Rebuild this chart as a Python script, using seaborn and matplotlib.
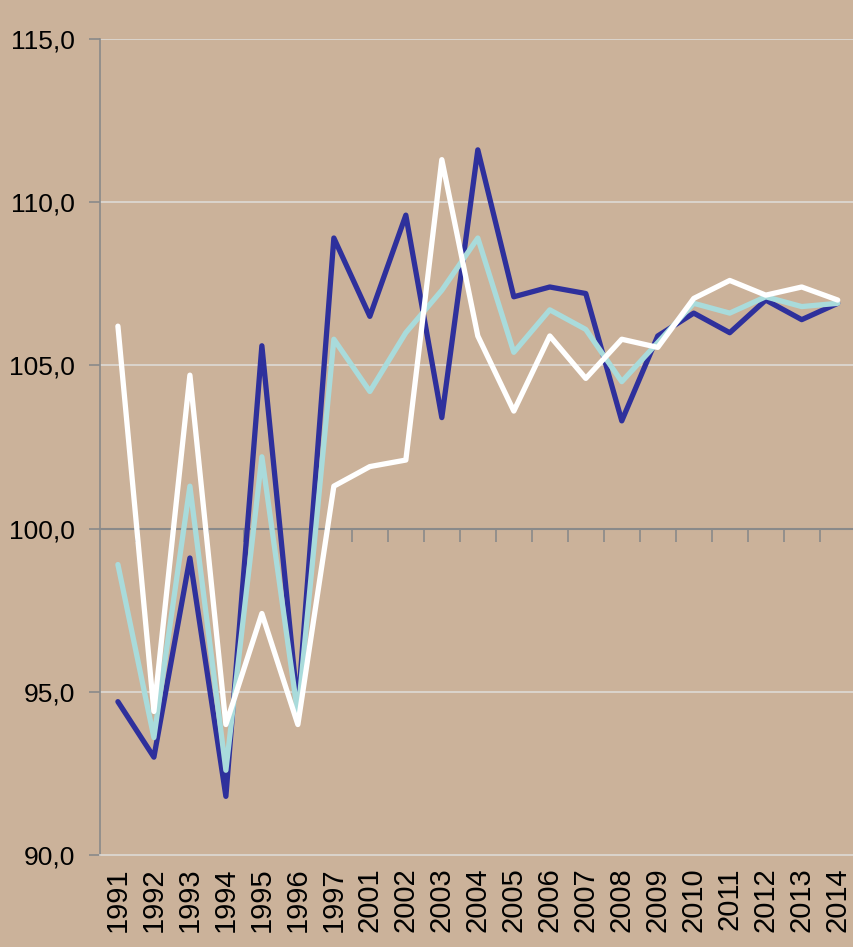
import pandas as pd
import seaborn as sns
import matplotlib.pyplot as plt

# data
years = ['1991', '1992', '1993', '1994', '1995', '1996', '1997',
         '2001', '2002', '2003', '2004', '2005', '2006', '2007',
         '2008', '2009', '2010', '2011', '2012', '2013', '2014']
dark_blue = [94.7, 93.0, 99.1, 91.8, 105.6, 94.5, 108.9,
             106.5, 109.6, 103.4, 111.6, 107.1, 107.4, 107.2,
             103.3, 105.9, 106.6, 106.0, 107.0, 106.4, 106.9]
light_cyan = [98.9, 93.6, 101.3, 92.6, 102.2, 94.3, 105.8,
              104.2, 106.0, 107.3, 108.9, 105.4, 106.7, 106.1,
              104.5, 105.7, 106.9, 106.6, 107.1, 106.8, 106.9]
white = [106.2, 94.4, 104.7, 94.0, 97.4, 94.0, 101.3,
         101.9, 102.1, 111.3, 105.9, 103.6, 105.9, 104.6,
         105.8, 105.55, 107.05, 107.6, 107.15, 107.4, 107.0]
y_ticks = [90, 95, 100, 105, 110, 115]

BG = '#cbb29a'
AXIS_GREY = '#8a8a8a'
GRID = '#dedad6'

df = pd.concat([
    pd.DataFrame({'pos': range(len(years)), 'value': dark_blue, 'series': 'a'}),
    pd.DataFrame({'pos': range(len(years)), 'value': light_cyan, 'series': 'b'}),
    pd.DataFrame({'pos': range(len(years)), 'value': white, 'series': 'c'}),
])

sns.set_style('white')
plt.rcParams['font.family'] = ['Liberation Sans', 'DejaVu Sans']

fig = plt.figure(figsize=(8.54, 9.47), dpi=100, facecolor=BG)
ax = fig.add_axes([0.117, 0.097, 0.885, 0.862])
ax.set_facecolor(BG)

sns.lineplot(data=df, x='pos', y='value', hue='series', sort=False,
             palette={'a': '#2e309c', 'b': '#a9dbdb', 'c': '#ffffff'},
             linewidth=3.8, legend=False, ax=ax, zorder=3)

ax.set_xlim(-0.5, len(years) - 0.5)
ax.set_ylim(90, 115)
ax.set_yticks(y_ticks)
ax.set_yticklabels([f'{v:.1f}'.replace('.', ',') for v in y_ticks], fontsize=19)
ax.set_xticks(range(len(years)))
ax.set_xticklabels(years, rotation=90, fontsize=21)
ax.tick_params(axis='x', length=0, pad=9, labelcolor='black')
ax.tick_params(axis='y', length=8, width=1.2, color=AXIS_GREY, pad=10,
               direction='out', left=True, labelcolor='black')
for y in y_ticks[1:]:
    if y != 100:
        ax.axhline(y, color=GRID, linewidth=1.2, zorder=1)
ax.set_xlabel('')
ax.set_ylabel('')

for side in ['top', 'right']:
    ax.spines[side].set_visible(False)
ax.spines['left'].set_color(AXIS_GREY)
ax.spines['left'].set_linewidth(1.2)
ax.spines['bottom'].set_color(GRID)
ax.spines['bottom'].set_linewidth(1.2)

# category axis crossing at 100
sec = ax.secondary_xaxis(0.4)
sec.set_xticks([i - 0.5 for i in range(1, len(years) + 1)])
sec.set_xticklabels([])
sec.tick_params(length=9, width=1.2, color=AXIS_GREY, direction='out')
sec.spines['bottom'].set_color(AXIS_GREY)
sec.spines['bottom'].set_linewidth(1.5)

fig.savefig('out.png', dpi=100, facecolor=BG)
